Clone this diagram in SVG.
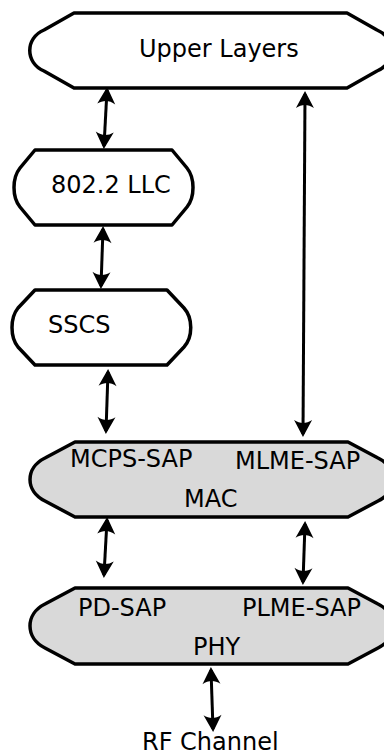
<svg xmlns="http://www.w3.org/2000/svg" width="384" height="756" viewBox="0 0 384 756">
<style>
.box{stroke:#000;stroke-width:3.5;stroke-linejoin:round}
.w{fill:#fff}
.g{fill:#d9d9d9}
.t{font-family:"DejaVu Sans",sans-serif;font-size:24px;fill:#000}
.c{fill:none;stroke:#000;stroke-width:3;marker-start:url(#ah);marker-end:url(#ah)}
</style>
<defs>
<marker id="ah" markerUnits="userSpaceOnUse" markerWidth="20" markerHeight="20" viewBox="0 -10 18 20" refX="14" refY="0" orient="auto-start-reverse">
<path d="M17,0 L0,-9 C4,-3 4,3 0,9 Z" fill="#000"/>
</marker>
</defs>
<rect width="384" height="756" fill="#fff"/>
<g id="upper">
<path class="box w" d="M74,13 H347 L377,30 C396,38 396,63 377,71 L347,88 H74 L44,71 C25,63 25,38 44,30 Z"/>
<text class="t" x="139" y="57">Upper Layers</text>
</g>
<g id="llc">
<path class="box w" d="M35,150 H172 L187,168 C195,178 195,197 187,207 L172,225 H35 L20,207 C12,197 12,178 20,168 Z"/>
<text class="t" x="51" y="193">802.2 LLC</text>
</g>
<g id="sscs">
<path class="box w" d="M35,290 H167 L184,308 C193,318 193,337 184,347 L167,365 H35 L18,347 C10,337 10,318 18,308 Z"/>
<text class="t" x="48" y="333">SSCS</text>
</g>
<g id="mac">
<path class="box g" d="M75,442 H348 L378,458 C398,468 398,491 378,501 L348,517 H75 L45,501 C25,491 25,468 45,458 Z"/>
<text class="t" x="70" y="467">MCPS-SAP</text>
<text class="t" x="235" y="469">MLME-SAP</text>
<text class="t" x="184" y="507">MAC</text>
</g>
<g id="phy">
<path class="box g" d="M75,588 H348 L378,604 C398,614 398,638 378,648 L348,664 H75 L45,648 C25,638 25,614 45,604 Z"/>
<text class="t" x="78" y="616">PD-SAP</text>
<text class="t" x="242" y="616">PLME-SAP</text>
<text class="t" x="193" y="655">PHY</text>
</g>
<g id="rf">
<text class="t" x="142" y="750">RF Channel</text>
</g>
<g id="connectors">
<line class="c" x1="107" y1="90" x2="104" y2="146"/>
<line class="c" x1="103" y1="229" x2="101" y2="286"/>
<line class="c" x1="108" y1="372" x2="106" y2="431"/>
<line class="c" x1="305" y1="94" x2="303" y2="434"/>
<line class="c" x1="107" y1="520" x2="104" y2="575"/>
<line class="c" x1="305" y1="524" x2="303" y2="582"/>
<line class="c" x1="211" y1="670" x2="213" y2="729"/>
</g>
</svg>
